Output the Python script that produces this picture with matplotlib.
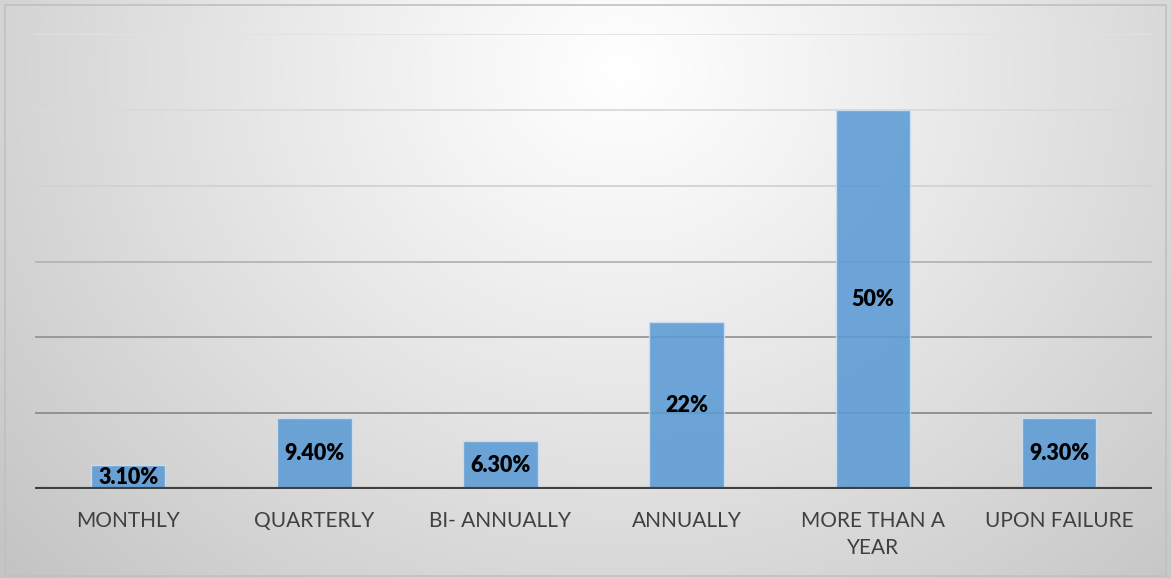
import numpy as np
import matplotlib.pyplot as plt

categories = ["MONTHLY", "QUARTERLY", "BI- ANNUALLY", "ANNUALLY",
              "MORE THAN A\nYEAR", "UPON FAILURE"]
values = [3.1, 9.4, 6.3, 22, 50, 9.3]
value_labels = ["3.10%", "9.40%", "6.30%", "22%", "50%", "9.30%"]
grid_levels = [10, 20, 30, 40, 50, 60]

plt.rcParams['font.family'] = ['Lato', 'DejaVu Sans']

fig = plt.figure(figsize=(11.71, 5.78), dpi=100)

# radial grey background
bg = fig.add_axes([0, 0, 1, 1], zorder=0)
h, w = 578, 1171
yy, xx = np.mgrid[0:h, 0:w]
d = np.sqrt(((xx - 620) / 1.0) ** 2 + ((yy - 70) / 0.9) ** 2)
shade = 1.0 - 0.23 * np.clip(d / 820, 0, 1) ** 1.1
bg.imshow(np.dstack([shade] * 3), aspect='auto', extent=[0, 1, 0, 1],
          origin='upper')
bg.add_patch(plt.Rectangle((0.004, 0.004), 0.992, 0.988, fill=False,
                           edgecolor='#c0c0c0', lw=1.2,
                           transform=bg.transAxes))
bg.axis('off')

ax = fig.add_axes([0.0299, 0.154, 0.954, 0.787], zorder=1)
ax.patch.set_alpha(0)
x = np.arange(len(categories))

grid_colors = ['#8c8c8c', '#959595', '#b4b4b4', '#d2d2d2', '#dadada', '#e2e2e2']
for lvl, c in zip(grid_levels, grid_colors):
    ax.axhline(lvl, color=c, lw=1.3, zorder=1)

bars = ax.bar(x, values, width=0.4, color='#5B9BD5', alpha=0.88,
              edgecolor='#cfe0f1', linewidth=1, zorder=2)

for b, lab in zip(bars, value_labels):
    ax.text(b.get_x() + b.get_width() / 2, b.get_height() / 2, lab,
            ha='center', va='center', fontsize=15.5, fontweight='heavy',
            color='black', zorder=3)

ax.axhline(0, color='#404040', lw=3, zorder=4)

ax.set_xlim(-0.5, len(categories) - 0.5)
ax.set_ylim(0, 60)
ax.set_xticks(x)
ax.set_xticklabels(categories, fontsize=15, color='#404040',
                   linespacing=1.45)
ax.tick_params(axis='x', length=0, pad=16)
ax.set_yticks([])
for s in ax.spines.values():
    s.set_visible(False)

fig.savefig('out.png', dpi=100)
